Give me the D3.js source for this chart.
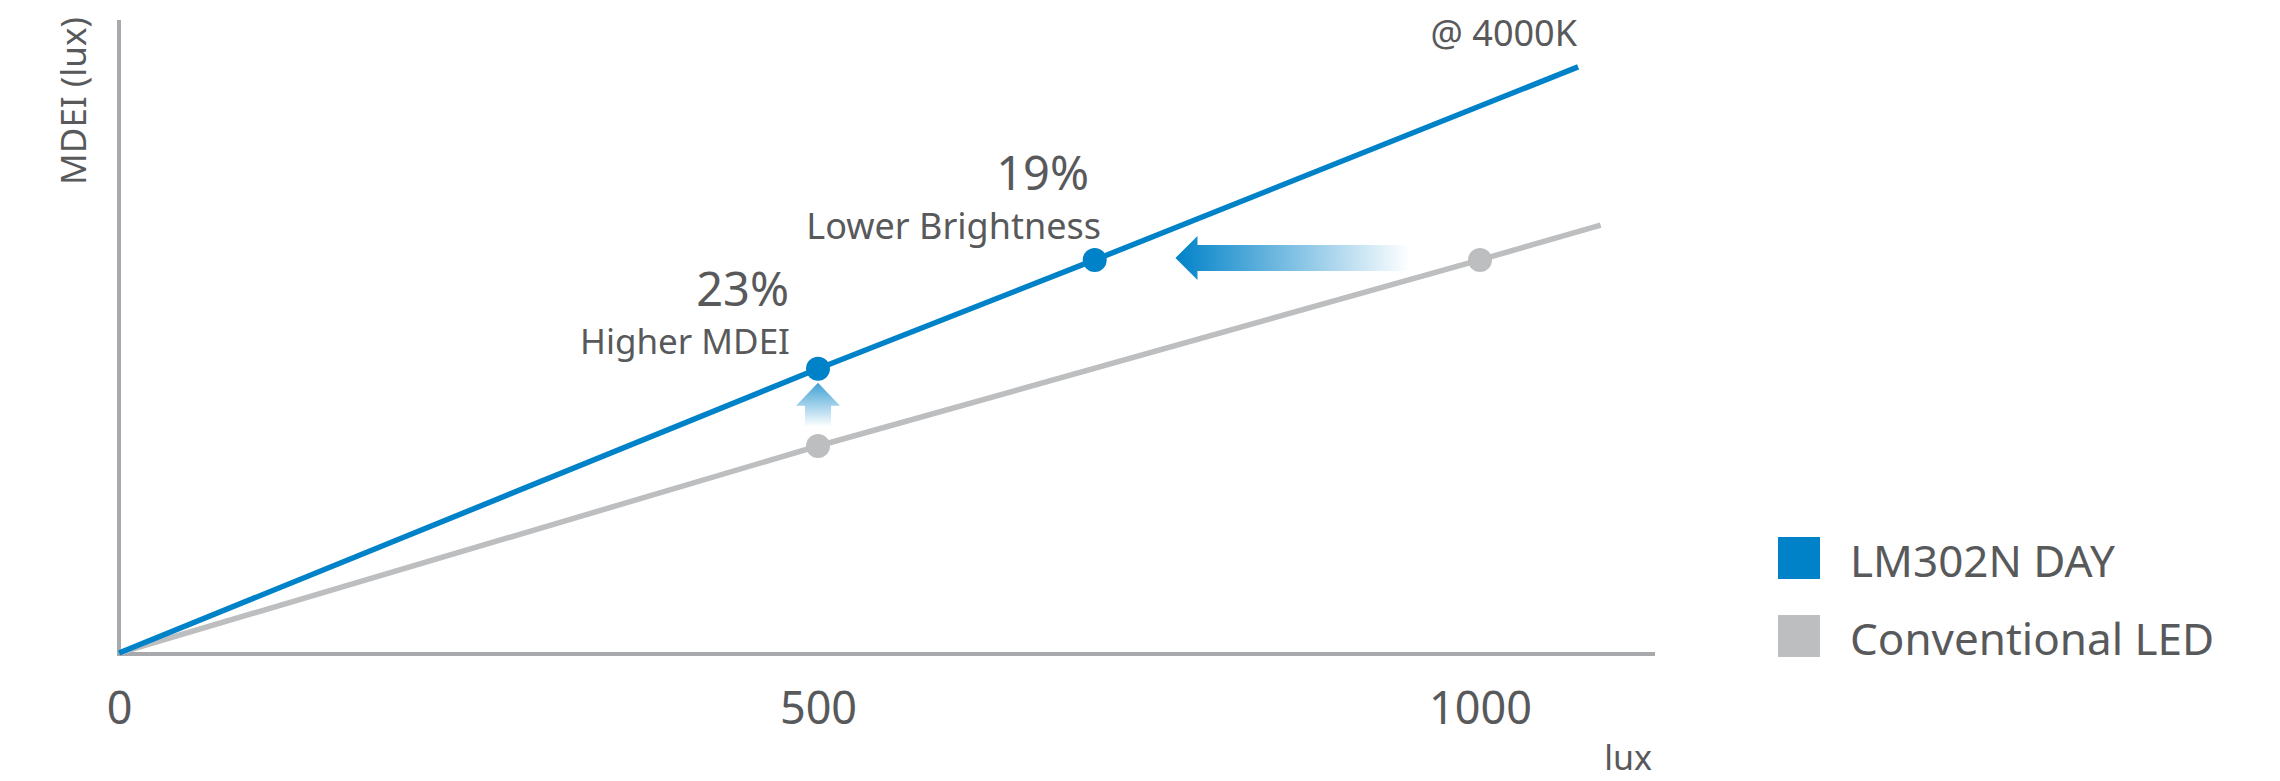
<!DOCTYPE html>
<html>
<head>
<meta charset="utf-8">
<script src="https://cdn.jsdelivr.net/npm/d3@7"></script>
<style>
  html, body { margin: 0; padding: 0; background: #ffffff; }
  svg { display: block; }
  text { font-family: "Noto Sans", "DejaVu Sans", sans-serif; fill: #58595b; }
</style>
</head>
<body>
<svg id="chart" width="2280" height="781"></svg>
<script>
// ---- data ----
const xTicks = [0, 500, 1000];
const seriesNames = ["LM302N DAY", "Conventional LED"];
const seriesColors = ["#0082c8", "#bcbec0"];
const lmLux  = [0, 500, 709, 1074];
const lmMdei = [0, 449, 621, 926];
const convLux  = [0, 500, 1000, 1091];
const convMdei = [0, 327, 621, 676];
const lmMarkerIdx = [1, 2];
const convMarkerIdx = [1, 2];
const annoPct = ["23%", "19%"];
const annoText = ["Higher MDEI", "Lower Brightness"];
const upArrow = { lux: 500, from: 357, to: 427 };
const leftArrow = { mdei: 621, from: 947, to: 770 };

// ---- layout ----
const svg = d3.select("#chart");
const axisColor = "#a7a9ac";
const x = d3.scaleLinear().domain([0, 500, 1000, 1132]).range([119, 818, 1480, 1655]);
const y = d3.scaleLinear().domain([0, 1000]).range([653, 20]);

const defs = svg.append("defs");
const gL = defs.append("linearGradient").attr("id", "gradLeft")
  .attr("gradientUnits", "userSpaceOnUse")
  .attr("x1", x(leftArrow.to)).attr("x2", x(leftArrow.from)).attr("y1", 0).attr("y2", 0);
gL.append("stop").attr("offset", 0).attr("stop-color", "#0082c8").attr("stop-opacity", 1);
gL.append("stop").attr("offset", 1).attr("stop-color", "#0082c8").attr("stop-opacity", 0);
const gU = defs.append("linearGradient").attr("id", "gradUp")
  .attr("gradientUnits", "userSpaceOnUse")
  .attr("x1", 0).attr("x2", 0).attr("y1", y(upArrow.to)).attr("y2", y(upArrow.from));
gU.append("stop").attr("offset", 0).attr("stop-color", "#0082c8").attr("stop-opacity", 0.75);
gU.append("stop").attr("offset", 1).attr("stop-color", "#0082c8").attr("stop-opacity", 0);

// axes lines
svg.append("line").attr("x1", x(0)).attr("x2", x(0)).attr("y1", y(1000)).attr("y2", y(0) + 3)
  .attr("stroke", axisColor).attr("stroke-width", 4);
svg.append("line").attr("x1", x(0) - 2).attr("x2", x(1132)).attr("y1", y(0) + 1).attr("y2", y(0) + 1)
  .attr("stroke", axisColor).attr("stroke-width", 4);

// x axis ticks
const xAxis = svg.append("g").attr("transform", `translate(0,${y(0)})`)
  .call(d3.axisBottom(x).tickValues(xTicks).tickSize(0).tickPadding(36).tickFormat(d3.format("d")));
xAxis.select(".domain").remove();
xAxis.selectAll("text").attr("font-size", 45).attr("fill", "#58595b")
  .style("font-family", "'Noto Sans', sans-serif").attr("dy", 0).attr("y", 71);

// axis titles
svg.append("text").attr("transform", `translate(86,17) rotate(-90)`)
  .attr("text-anchor", "end").attr("font-size", 35).text("MDEI (lux)");
svg.append("text").attr("x", 1652).attr("y", 770).attr("text-anchor", "end")
  .attr("font-size", 34).text("lux");
svg.append("text").attr("x", 1577).attr("y", 46).attr("text-anchor", "end")
  .attr("font-size", 36).text("@ 4000K");

// lines
const line = d3.line().x(d => x(d[0])).y(d => y(d[1]));
const convPts = convLux.map((v, i) => [v, convMdei[i]]);
const lmPts = lmLux.map((v, i) => [v, lmMdei[i]]);
svg.append("path").attr("d", line(convPts)).attr("fill", "none")
  .attr("stroke", seriesColors[1]).attr("stroke-width", 5.5);
svg.append("path").attr("d", line(lmPts)).attr("fill", "none")
  .attr("stroke", seriesColors[0]).attr("stroke-width", 5.5);

// arrows
{
  const ay = y(leftArrow.mdei) - 2;
  const tip = x(leftArrow.to), tail = x(leftArrow.from);
  const hl = 22, hh = 22, sh = 13;
  const p = [[tip, ay], [tip + hl, ay - hh], [tip + hl, ay - sh], [tail, ay - sh], [tail, ay + sh],
             [tip + hl, ay + sh], [tip + hl, ay + hh]];
  svg.append("path").attr("d", "M" + p.join("L") + "Z").attr("fill", "url(#gradLeft)");
}
{
  const ax = x(upArrow.lux);
  const tip = y(upArrow.to), tail = y(upArrow.from);
  const hl = 23, hw = 22, sw = 13;
  const p = [[ax, tip], [ax + hw, tip + hl], [ax + sw, tip + hl], [ax + sw, tail], [ax - sw, tail],
             [ax - sw, tip + hl], [ax - hw, tip + hl]];
  svg.append("path").attr("d", "M" + p.join("L") + "Z").attr("fill", "url(#gradUp)");
}

// markers
svg.selectAll(".convDot").data(convMarkerIdx).enter().append("circle")
  .attr("cx", i => x(convLux[i])).attr("cy", i => y(convMdei[i])).attr("r", 12)
  .attr("fill", seriesColors[1]);
svg.selectAll(".lmDot").data(lmMarkerIdx).enter().append("circle")
  .attr("cx", i => x(lmLux[i])).attr("cy", i => y(lmMdei[i])).attr("r", 12)
  .attr("fill", seriesColors[0]);

// annotations
svg.append("text").attr("x", 789).attr("y", 306).attr("text-anchor", "end").attr("font-size", 47).text(annoPct[0]);
svg.append("text").attr("x", 790).attr("y", 354).attr("text-anchor", "end").attr("font-size", 35).text(annoText[0]);
svg.append("text").attr("x", 1089).attr("y", 190).attr("text-anchor", "end").attr("font-size", 47).text(annoPct[1]);
svg.append("text").attr("x", 1101).attr("y", 239).attr("text-anchor", "end").attr("font-size", 36).text(annoText[1]);

// legend
const leg = svg.append("g");
seriesNames.forEach((name, i) => {
  const gy = 537 + i * 78;
  leg.append("rect").attr("x", 1778).attr("y", gy).attr("width", 42).attr("height", 42).attr("fill", seriesColors[i]);
  leg.append("text").attr("x", 1850).attr("y", gy + 40).attr("font-size", 44).text(name);
});
</script>
</body>
</html>
